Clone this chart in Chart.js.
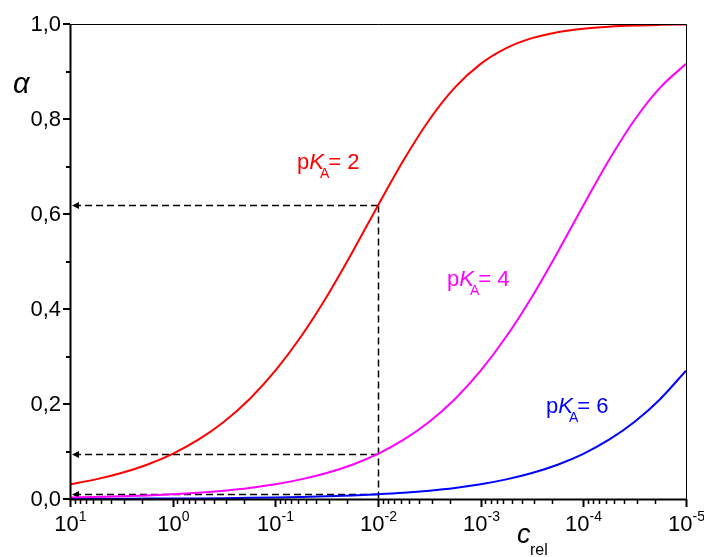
<!DOCTYPE html>
<html>
<head>
<meta charset="utf-8">
<script src="https://cdn.jsdelivr.net/npm/chart.js@4.4.1/dist/chart.umd.min.js"></script>
<style>
  html, body { margin:0; padding:0; background:#fff; }
  canvas { display:block; }
</style>
</head>
<body>
<canvas id="chart" width="704" height="557"></canvas>
<script>
/* ---- data (quarter-decade steps of c_rel) ---- */
const cRel = [10, 5.623, 3.162, 1.778, 1, 0.5623, 0.3162, 0.1778, 0.1,
              0.05623, 0.03162, 0.01778, 0.01, 5.623e-3, 3.162e-3, 1.778e-3, 1e-3,
              5.623e-4, 3.162e-4, 1.778e-4, 1e-4, 5.623e-5, 3.162e-5, 1.778e-5, 1e-5];

const alphaPk2 = [0.0311, 0.0413, 0.0547, 0.0722, 0.0951, 0.1248, 0.1627, 0.2107, 0.2702,
                  0.3421, 0.4260, 0.5197, 0.6180, 0.7136, 0.7984, 0.8665, 0.9161,
                  0.9493, 0.9702, 0.9828, 0.9902, 0.9944, 0.9969, 0.9982, 0.9990];

const alphaPk4 = [0.0032, 0.0042, 0.0056, 0.0075, 0.0100, 0.0132, 0.0176, 0.0234, 0.0311,
                  0.0413, 0.0547, 0.0722, 0.0951, 0.1248, 0.1627, 0.2107, 0.2702,
                  0.3421, 0.4260, 0.5197, 0.6180, 0.7136, 0.7984, 0.8665, 0.9161];

const alphaPk6 = [0.0003, 0.0004, 0.0006, 0.0008, 0.0010, 0.0013, 0.0018, 0.0024, 0.0032,
                  0.0042, 0.0056, 0.0075, 0.0100, 0.0132, 0.0176, 0.0234, 0.0311,
                  0.0413, 0.0547, 0.0722, 0.0951, 0.1248, 0.1627, 0.2107, 0.2702];

const pkLabels  = ['2', '4', '6'];
const colors    = ['#ff0000', '#ff00ff', '#0000ff'];
const yTicks    = [0, 0.2, 0.4, 0.6, 0.8, 1.0];
const yMinor    = [0.1, 0.3, 0.5, 0.7, 0.9];
const xDecades  = [1, 0, -1, -2, -3, -4, -5];
const markIndex = 12;   // c_rel = 10^-2, where the dashed guides are drawn

const FONT = '"Liberation Sans", Arial, sans-serif';

function pts(arr) { return cRel.map((c, i) => ({ x: c, y: arr[i] })); }

/* ---- axes frame, ticks, labels ---- */
const framePlugin = {
  id: 'frame',
  beforeDatasetsDraw(chart) {
    const { ctx, scales: { x, y } } = chart;
    const xm = x.getPixelForValue(cRel[markIndex]);
    const y0 = y.getPixelForValue(0);
    const left = x.left;
    ctx.save();
    ctx.strokeStyle = '#000';
    ctx.fillStyle = '#000';
    ctx.lineWidth = 1.5;
    ctx.setLineDash([7, 4]);
    [alphaPk2, alphaPk4, alphaPk6].forEach(arr => {
      const yy = Math.round(y.getPixelForValue(arr[markIndex])) + 0.5;
      ctx.beginPath(); ctx.moveTo(xm, yy); ctx.lineTo(left + 8, yy); ctx.stroke();
    });
    const yTop = y.getPixelForValue(alphaPk2[markIndex]);
    ctx.beginPath(); ctx.moveTo(Math.round(xm) + 0.5, yTop); ctx.lineTo(Math.round(xm) + 0.5, y0); ctx.stroke();
    ctx.setLineDash([]);
    // arrowheads on the axis
    [alphaPk2, alphaPk4, alphaPk6].forEach(arr => {
      const yy = Math.round(y.getPixelForValue(arr[markIndex])) + 0.5;
      ctx.beginPath();
      ctx.moveTo(left + 2, yy);
      ctx.lineTo(left + 9, yy - 3.5);
      ctx.lineTo(left + 9, yy + 3.5);
      ctx.closePath(); ctx.fill();
    });
    ctx.restore();
  },
  afterDraw(chart) {
    const { ctx, chartArea: a, scales: { x, y } } = chart;
    ctx.save();
    ctx.strokeStyle = '#000';
    // thin top and right
    ctx.lineWidth = 1;
    ctx.beginPath();
    ctx.moveTo(a.left, a.top + 0.5); ctx.lineTo(a.right + 0.5, a.top + 0.5);
    ctx.lineTo(a.right + 0.5, a.bottom);
    ctx.stroke();
    // thick left and bottom
    ctx.lineWidth = 2;
    ctx.beginPath();
    ctx.moveTo(a.left + 0.5, a.top); ctx.lineTo(a.left + 0.5, a.bottom + 0.5);
    ctx.lineTo(a.right + 1, a.bottom + 0.5);
    ctx.stroke();

    // y ticks
    ctx.fillStyle = '#000';
    ctx.font = '22px ' + FONT;
    ctx.textAlign = 'right';
    ctx.textBaseline = 'middle';
    yTicks.forEach(v => {
      const py = Math.round(y.getPixelForValue(v));
      ctx.beginPath(); ctx.moveTo(a.left - 7, py); ctx.lineTo(a.left, py); ctx.stroke();
      ctx.fillText(v.toFixed(1).replace('.', ','), a.left - 9, py + 1);
    });
    yMinor.forEach(v => {
      const py = Math.round(y.getPixelForValue(v));
      ctx.beginPath(); ctx.moveTo(a.left - 4, py); ctx.lineTo(a.left, py); ctx.stroke();
    });

    // x ticks (log, reversed)
    xDecades.forEach(d => {
      const px = Math.round(x.getPixelForValue(Math.pow(10, d))) + 0.5;
      ctx.lineWidth = 2;
      ctx.beginPath(); ctx.moveTo(px, a.bottom); ctx.lineTo(px, a.bottom + 8); ctx.stroke();
      if (d > -5) {
        ctx.lineWidth = 1.5;
        for (let m = 2; m <= 9; m++) {
          const mx = Math.round(x.getPixelForValue(m * Math.pow(10, d - 1))) + 0.5;
          ctx.beginPath(); ctx.moveTo(mx, a.bottom); ctx.lineTo(mx, a.bottom + 5); ctx.stroke();
        }
      }
      // label 10^d
      const base = '10', exp = String(d);
      ctx.font = '22px ' + FONT;
      const wb = ctx.measureText(base).width;
      ctx.font = '14px ' + FONT;
      const we = ctx.measureText(exp).width;
      const x0 = px - (wb + we) / 2;
      ctx.textAlign = 'left';
      ctx.textBaseline = 'alphabetic';
      ctx.font = '22px ' + FONT;
      ctx.fillText(base, x0, a.bottom + 32);
      ctx.font = '14px ' + FONT;
      ctx.fillText(exp, x0 + wb, a.bottom + 22);
    });

    // axis titles
    ctx.textAlign = 'left';
    ctx.textBaseline = 'alphabetic';
    ctx.font = 'italic 29px ' + FONT;
    ctx.fillText('α', 13, 93);
    ctx.font = 'italic 27px ' + FONT;
    ctx.fillText('c', 517, 543);
    ctx.font = '16px ' + FONT;
    ctx.fillText('rel', 530, 555);

    // pK_A labels
    const spots = [[297, 169], [447, 286], [546, 413]];
    spots.forEach(([lx, by], i) => {
      ctx.fillStyle = colors[i];
      let cx = lx;
      ctx.font = '22px ' + FONT;
      ctx.fillText('p', cx, by); cx += ctx.measureText('p').width;
      ctx.font = 'italic 22px ' + FONT;
      ctx.fillText('K', cx, by); cx += ctx.measureText('K').width - 4;
      ctx.font = '14px ' + FONT;
      ctx.fillText('A', cx, by + 9); cx += ctx.measureText('A').width - 1;
      ctx.font = '22px ' + FONT;
      ctx.fillText('= ' + pkLabels[i], cx, by);
    });
    ctx.restore();
  }
};

new Chart(document.getElementById('chart'), {
  type: 'line',
  data: {
    datasets: [
      { label: 'pKA = 2', data: pts(alphaPk2), borderColor: colors[0] },
      { label: 'pKA = 4', data: pts(alphaPk4), borderColor: colors[1] },
      { label: 'pKA = 6', data: pts(alphaPk6), borderColor: colors[2] }
    ]
  },
  options: {
    responsive: false,
    animation: false,
    layout: { padding: { left: 70, right: 18, top: 24, bottom: 58 } },
    elements: {
      line: { borderWidth: 2, cubicInterpolationMode: 'monotone', fill: false },
      point: { radius: 0 }
    },
    plugins: { legend: { display: false }, tooltip: { enabled: false } },
    scales: {
      x: { type: 'logarithmic', reverse: true, min: 1e-5, max: 10, display: false },
      y: { type: 'linear', min: 0, max: 1, display: false }
    }
  },
  plugins: [framePlugin]
});
</script>
</body>
</html>
